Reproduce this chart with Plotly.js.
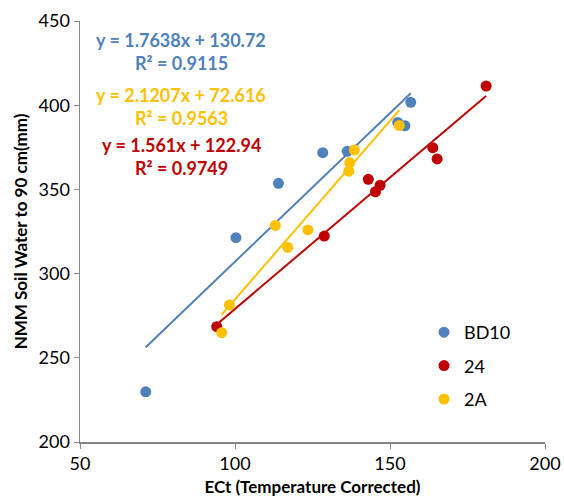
<!DOCTYPE html>
<html>
<head>
<meta charset="utf-8">
<script src="https://cdn.plot.ly/plotly-3.0.1.min.js"></script>
<style>html,body{margin:0;padding:0;background:#fff;}#chart{width:564px;height:504px;}</style>
</head>
<body>
<div id="chart"></div>
<script>
// Data
const seriesNames = ["BD10", "24", "2A"];
const bd10X = [71.2, 100.3, 114.0, 128.3, 136.2, 152.5, 154.8, 156.7];
const bd10Y = [229.8, 321.3, 353.6, 371.8, 372.6, 389.8, 387.8, 401.7];
const s24X = [94.1, 128.8, 143.0, 145.3, 146.8, 163.8, 165.2, 181.0];
const s24Y = [268.5, 322.3, 356.0, 348.6, 352.4, 374.8, 368.1, 411.4];
const s2aX = [95.7, 98.2, 113.0, 117.0, 123.5, 136.7, 137.0, 138.5, 153.0];
const s2aY = [264.9, 281.4, 328.6, 315.6, 325.9, 360.8, 365.9, 373.4, 388.0];
// Linear trendline coefficients (as printed on the chart)
const slopes = [1.7638, 1.561, 2.1207];
const intercepts = [130.72, 122.94, 72.616];
const eqLabels = ["y = 1.7638x + 130.72", "y = 1.561x + 122.94", "y = 2.1207x + 72.616"];
const r2Labels = ["R² = 0.9115", "R² = 0.9749", "R² = 0.9563"];
const xTicks = [50, 100, 150, 200];
const yTicks = [200, 250, 300, 350, 400, 450];

const colors = ["#4F81BD", "#C00000", "#FFC000"];
const xs = [bd10X, s24X, s2aX];
const ys = [bd10Y, s24Y, s2aY];
const FONT = "Lato, 'Open Sans', sans-serif";

const traces = [];
// trendlines first (drawn beneath markers)
for (let i = 0; i < 3; i++) {
  const x0 = Math.min(...xs[i]), x1 = Math.max(...xs[i]);
  traces.push({
    x: [x0, x1],
    y: [slopes[i] * x0 + intercepts[i], slopes[i] * x1 + intercepts[i]],
    mode: "lines", type: "scatter", showlegend: false, hoverinfo: "skip",
    line: {color: colors[i], width: 2}
  });
}
for (let i = 0; i < 3; i++) {
  traces.push({
    x: xs[i], y: ys[i], name: seriesNames[i], legendgroup: "g" + i,
    mode: "markers", type: "scatter",
    marker: {color: colors[i], size: 11}
  });
}

function px2paperX(p) { return (p - 80) / 465; }
function px2paperY(p) { return 1 - (p - 21) / 421; }
const labelOrder = [0, 2, 1]; // blue, yellow, red from top
const eqY = [40, 95, 145];
const r2Y = [63, 118, 168];
const annotations = [];
labelOrder.forEach((s, k) => {
  annotations.push({xref: "paper", yref: "paper", x: px2paperX(181), y: px2paperY(eqY[k]),
    text: "<b>" + eqLabels[s] + "</b>", showarrow: false, xanchor: "center", yanchor: "middle",
    font: {family: FONT, size: 18, color: colors[s]}});
  annotations.push({xref: "paper", yref: "paper", x: px2paperX(181), y: px2paperY(r2Y[k]),
    text: "<b>" + r2Labels[s] + "</b>", showarrow: false, xanchor: "center", yanchor: "middle",
    font: {family: FONT, size: 18, color: colors[s]}});
});

const layout = {
  width: 564, height: 504,
  margin: {l: 80, r: 19, t: 21, b: 62},
  paper_bgcolor: "#fff", plot_bgcolor: "#fff",
  font: {family: FONT, size: 18, color: "#000"},
  xaxis: {
    range: [50, 200], tickvals: xTicks, ticktext: xTicks.map(String),
    showgrid: false, zeroline: false, showline: true, linecolor: "#868686", linewidth: 1.5,
    ticks: "outside", ticklen: 5, tickcolor: "#868686", tickfont: {size: 18, family: FONT},
    title: {text: "<b>ECt (Temperature Corrected)</b>", font: {size: 17, family: FONT}, standoff: 8}
  },
  yaxis: {
    range: [200, 450], tickvals: yTicks, ticktext: yTicks.map(String),
    showgrid: false, zeroline: false, showline: true, linecolor: "#868686", linewidth: 1.5,
    ticks: "outside", ticklen: 5, tickcolor: "#868686", tickfont: {size: 18, family: FONT},
    title: {text: "<b>NMM Soil Water to 90 cm(mm)</b>", font: {size: 17, family: FONT}, standoff: 6}
  },
  legend: {
    x: px2paperX(424), y: px2paperY(314), xanchor: "left", yanchor: "top",
    font: {size: 18, family: FONT}, tracegroupgap: 7, bgcolor: "rgba(0,0,0,0)"
  },
  showlegend: true,
  annotations: annotations
};

Plotly.newPlot("chart", traces, layout, {displayModeBar: false, staticPlot: true});
</script>
</body>
</html>
